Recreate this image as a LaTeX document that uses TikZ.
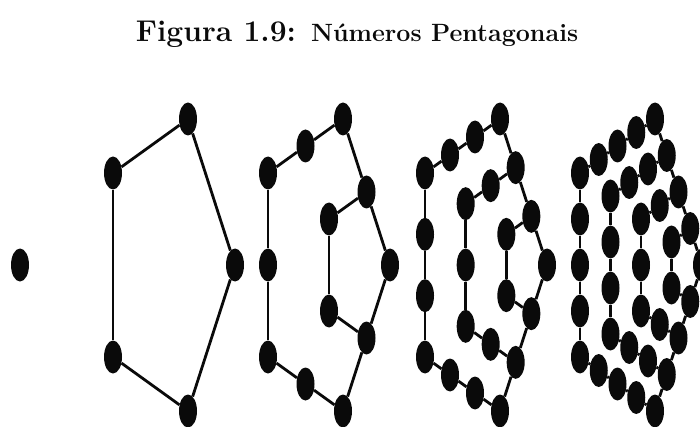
\documentclass[tikz,border=0pt]{standalone}
\usepackage{fontspec}
\usetikzlibrary{shapes.geometric}
\definecolor{ink}{HTML}{0A0A0A}
\tikzset{
  pnt/.style ={ellipse,fill=ink,inner sep=0pt,minimum width=18pt,minimum height=33pt},
  seg/.style ={draw=ink,line width=2.8pt},
  ttl/.style ={text=ink,anchor=base,inner sep=0pt},
}
\begin{document}
\begin{tikzpicture}[x=1pt,y=-1pt]
\useasboundingbox (0,0) rectangle (700,427);
% ===== title =====
\node[ttl] (title) at (357,42) {\bfseries\fontsize{30}{36}\selectfont Figura 1.9: {\fontsize{25}{30}\selectfont Números Pentagonais}};

% ===== first number: one dot =====
\node[pnt] (p1-0-0) at (20,265) {};

% ===== nested pentagons sharing the right vertex =====
\def\ax{-47}\def\ay{-146}
\def\bx{-122}\def\by{-92}
\foreach \f/\rx in {2/235,3/390,4/547,5/702}{
  \pgfmathtruncatemacro\nn{\f-1}
  \pgfmathsetmacro\sc{1/\nn}
  \node[pnt] (p\f-0-0) at (\rx,265) {};
  \foreach \k in {1,...,\nn}{
    \pgfmathtruncatemacro\mm{3*\k}
    \foreach \j in {0,...,\mm}{
      \pgfmathsetmacro\wA{max(\k-\j,0)}
      \pgfmathsetmacro\wB{min(\j,max(2*\k-\j,0))}
      \pgfmathsetmacro\wC{max(0,min(\j-\k,3*\k-\j))}
      \pgfmathsetmacro\wD{max(\j-2*\k,0)}
      \pgfmathsetmacro\px{\rx+\sc*((\wA+\wD)*(\ax)+(\wB+\wC)*(\bx))}
      \pgfmathsetmacro\py{265+\sc*((\wA-\wD)*(\ay)+(\wB-\wC)*(\by))}
      \node[pnt] (p\f-\k-\j) at (\px,\py) {};
    }
    \foreach \j [count=\i from 0] in {1,...,\mm}
      \draw[seg] (p\f-\k-\i) -- (p\f-\k-\j);
    % links to the inner pentagon
    \pgfmathtruncatemacro\qq{\k-1}
    \pgfmathtruncatemacro\qm{3*\qq}
    \draw[seg] (p\f-\qq-0) -- (p\f-\k-0);
    \draw[seg] (p\f-\qq-\qm) -- (p\f-\k-\mm);
  }
}
\end{tikzpicture}
\end{document}
